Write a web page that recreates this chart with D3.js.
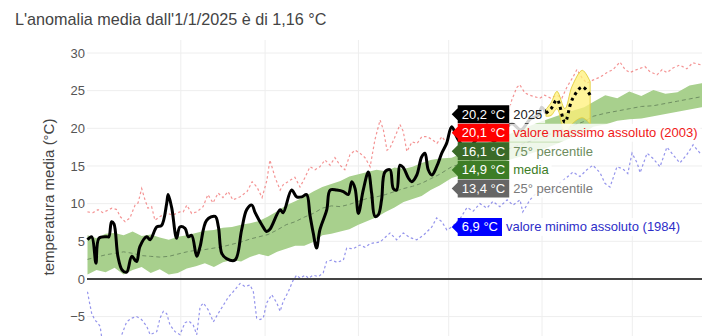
<!DOCTYPE html>
<html>
<head>
<meta charset="utf-8">
<script src="https://cdn.jsdelivr.net/npm/d3@7"></script>
<style>
  body { margin: 0; background: #fff; }
  svg { display: block; font-family: "Liberation Sans", Arial, sans-serif; }
</style>
</head>
<body>
<svg id="chart"></svg>
<script>
// day of year (0 = 1 Jan), value in °C
var serie2025 = [[0,5.2],[1.4,5.6],[2.8,2.1],[3.8,5.4],[6.4,5.6],[7.1,5.6],[8,7.6],[8.8,7.3],[10.1,3],[11.5,1.2],
  [13,0.9],[14.7,3],[16.3,2.3],[17.4,4.3],[19.7,5.6],[20.8,5.2],[23,6.9],[24.6,7.1],[26.3,10],[26.8,11.2],[28,9.4],
  [29.6,5.4],[30.7,6.9],[32.4,6.7],[33.5,5.6],[34.6,5.8],[36.3,3],[37.4,4.3],[39.6,7.8],[42.4,8.3],[43.5,6.9],
  [44.6,3.4],[46.2,2.7],[49,2.5],[51.2,6.5],[52.9,9.2],[54.6,9.8],[55.7,8.8],[57.9,7.2],[59.5,6.3],[60.6,6.6],
  [64,9.2],[65,8.8],[67.8,11.8],[69.5,10.9],[71.2,10.9],[72.8,11.2],[73.9,8.5],[75,6.1],[76.1,4.1],[77.2,6.5],
  [79.5,9.2],[80.6,11.8],[82.8,11.8],[85,11.6],[86.6,11.2],[87.8,12.9],[88.9,12],[90,8.7],[91.6,11.8],[93.3,14.2],
  [94.4,11.4],[95.5,8.3],[96.6,8.5],[97.7,10.5],[98.8,14.2],[100.5,14.5],[101.6,12],[102.7,11.8],[103.8,15.1],
  [104.9,14.8],[106.6,13.4],[107.7,12.9],[109.4,13.8],[111,16.2],[112.1,16.7],[113.2,14.5],[114.4,13.8],[116,14.9],
  [117.7,16.7],[119.3,18],[121,20.2],[123,18.6],[126,17.2],[129,18.4],[132,19.6],[135,18.3],[138,19.5],[141,20.6],
  [144,19.8],[147,21.2],[149.9,21.8],[150.9,22.8],[152.3,22]];

var previsioneDays = [152.3, 154, 156, 158.6, 161, 164.4, 167];
var previsione     = [22.0, 22.6, 23.8, 20.8, 23.8, 25.5, 24.4];
var previsioneMin  = [21.6, 21.7, 22.6, 19.4, 20.6, 21.4, 20.6];
var previsioneMax  = [22.5, 23.4, 24.9, 22.6, 25.6, 27.7, 26.2];

var massimoAssoluto = [[0,8.9],[1.8,8.8],[3.5,9.2],[5.1,8.8],[8.1,9.4],[9.8,9.2],[10.8,8.3],[12.5,7.6],[14.1,8.1],
  [15.8,9.8],[16.8,10.1],[18,12],[19.1,10.5],[20.1,9.4],[21.3,9.6],[22.4,7.8],[24.1,8.3],[26.3,8.7],[28.4,8.5],
  [30.7,8.9],[31.8,8.9],[33,9.8],[34.6,8.7],[36.3,8.9],[38.4,9.6],[40,11.2],[41.7,10.1],[43.4,11.4],[45,10.8],
  [46.7,11.6],[48.3,10.5],[50.7,10.9],[53,11.6],[54.7,12.9],[56.3,12.2],[58,10.8],[59.6,13.1],[60.6,15.8],[62.3,13.5],
  [64,11.8],[65,12.5],[67.3,13.1],[68.9,13.5],[70.6,12.2],[72.3,13.5],[73.9,14.9],[75.6,14.5],[77.2,14.9],[78.9,15.8],
  [80.6,15.1],[82.2,16.1],[83.9,15.1],[85.5,14.5],[87.2,16.5],[88.9,17.1],[90.5,16.7],[92.2,16.1],[93.9,14.9],
  [95.5,18.5],[97.2,21.1],[98.3,19.8],[99.5,17.1],[100.5,17.4],[102.2,18.9],[103.8,20.5],[104.9,19.6],[106.1,16.9],
  [107.8,18.2],[109.5,18],[111.1,18.9],[112.8,18.9],[114.5,18.5],[116.1,18],[117.8,18.9],[119.4,18],[121,20.1],
  [123.8,19.5],[127.1,20.5],[130.4,19.8],[133.7,21],[137,20.8],[139.4,21.5],[141,23.8],[142.6,25.4],[143.6,25.8],
  [145.3,24.7],[146.9,24.4],[148.5,24.2],[150.3,24],[151.9,24.4],[153.9,24],[156,24.4],[157.6,24],[159.3,25.5],
  [161.3,26.8],[162.6,27.8],[164.3,26.7],[165.9,26],[167.9,26.4],[170.3,26.8],[172.6,27.4],[174.6,27.8],[176.9,28.8],
  [178.6,27.8],[180.2,27.4],[182.5,27.8],[185.2,28.2],[186.9,27.5],[189.2,27.1],[190.9,27.8],[192.5,27.4],[194.5,28],
  [196.8,28.4],[199.1,27.9],[201.1,28.7],[204.1,28.4],[207,28.6]];

var minimoAssoluto = [[0,-1.7],[0.5,-2.8],[1.4,-4.6],[2.5,-5.5],[3.1,-5.7],[4.2,-6.3],[4.7,-7.7],[7,-8.6],[10,-8.2],
  [11.4,-7.4],[13,-5.7],[14.7,-5.2],[16.3,-5],[18,-5.4],[19.7,-6.3],[20.8,-7.4],[23,-7],[24.1,-5.2],[25.2,-4.3],
  [26.3,-4.6],[27.4,-6.1],[29.1,-7],[30.7,-7.4],[32.4,-5.8],[33.7,-5.6],[35.1,-6.1],[36.3,-7.4],[37.4,-3.7],
  [38.5,-3.2],[40.1,-4.1],[41.8,-5.7],[43.4,-4.6],[45.1,-3.5],[46.8,-2.4],[48.4,-1.7],[50.7,-0.6],[52.3,-1],
  [54,-0.8],[55.1,-1.7],[56.2,-5.2],[57.3,-5.4],[58.4,-5.2],[59.5,-3.2],[61.2,-2.1],[62.9,-3.2],[64,-4.3],[65,-3],
  [66.7,-1.7],[68.4,-0.1],[69.5,0.5],[70.6,0.1],[72.3,0.5],[73.4,0.1],[75,0.5],[76.7,0.3],[78.3,0.8],[79.4,2.3],
  [81.1,2.5],[82.9,2.2],[85,2.5],[86.1,4.1],[88.2,4],[90.5,4.5],[92.2,4.2],[93.9,4.7],[97.2,4.9],[100.5,6.1],
  [102.7,5.2],[104.9,6.1],[107.1,5.5],[109.4,5.2],[111.6,5.8],[114.4,6.9],[116,8.1],[117.7,7.6],[119.4,6.5],[121,6.9],
  [123.8,8],[126.1,9.5],[128.1,9],[130.4,10],[132.7,9.4],[134.7,10.3],[137,9.6],[139.4,10.5],[141.4,9.8],[143.7,10.5],
  [144.6,8.9],[147,10.5],[149.3,11.5],[152,12],[154.3,11.3],[157,12.8],[159.3,13.5],[161.3,14.2],[163.6,13.6],
  [165.9,14.5],[167.9,15.1],[170.3,14.1],[171.9,12.7],[173.6,12.2],[175.9,14.9],[177.9,14.6],[179.5,14],[180.9,16.7],
  [182.6,15.4],[183.6,14.1],[185.9,16.7],[187.9,16],[190.2,14.9],[192.5,17.5],[194.5,16.5],[196.8,15.4],[199.1,16.5],
  [201.2,17.8],[203.5,16.7],[207,17]];

var percDays = [0,3,6,9,12,15,18,21,24,27,30,33,36,39,42,45,48,51,54,57,60,63,66,69,72,75,78,81,84,87,90,93,96,99,
  102,105,108,111,114,117,121,125,130,135,140,145,150,155,160,165,168,172,176,180,184,188,192,196,200,204,207];
var perc75 = [5.8,5.4,6.0,6.1,5.8,6.3,5.7,5.9,5.5,5.2,5.6,5.8,6.1,6.4,6.5,6.8,6.9,7.2,7.4,7.7,8.3,9.0,9.8,10.3,10.9,
  11.6,12.2,12.6,13.0,13.6,13.9,14.2,14.5,14.3,14.8,14.6,14.9,15.4,15.8,16.0,16.1,16.8,17.6,18.4,19.2,20.0,20.8,21.5,
  22.2,22.8,23.5,24.4,24.0,24.9,24.3,25.1,24.6,24.8,25.7,26.0,25.6];
var media = [2.6,2.9,3.2,3.4,3.6,3.4,3.1,3.0,2.9,3.0,3.3,3.6,3.8,3.9,4.1,4.3,4.6,4.9,5.3,5.6,5.9,6.5,7.2,7.6,8.2,8.7,
  9.4,9.7,9.6,9.9,10.3,10.7,10.9,11.2,11.6,12.0,12.3,12.7,13.3,13.9,14.9,15.4,16.0,16.6,17.3,18.0,18.7,19.4,20.2,20.9,
  21.6,22.0,22.3,22.6,22.9,23.0,23.3,23.6,23.9,24.2,24.4];
var perc25 = [0.6,1.2,0.9,1.5,0.6,1.2,1.6,0.8,1.3,0.6,0.8,1.4,1.7,2.1,1.6,2.2,2.5,2.3,2.9,3.3,3.0,3.6,4.0,4.4,4.4,4.9,
  5.8,6.0,6.3,6.6,7.2,7.7,8.2,8.9,9.5,10.2,10.6,11.0,11.8,12.4,13.4,13.9,14.5,15.2,15.8,16.4,17.0,17.8,18.6,19.4,
  20.2,20.5,21.0,21.2,21.3,21.6,21.9,22.2,22.5,22.8,23.0];

var yTicks = [-5, 0, 5, 10, 15, 20, 25, 30];
var monthStarts = [31, 59, 90, 120, 151, 181];
var hoverDay = 121;
var titolo = "L'anomalia media dall'1/1/2025 è di 1,16 °C";

var width = 702, height = 336;
var svg = d3.select("#chart").attr("width", width).attr("height", height);

var x = d3.scaleLinear().domain([0, 365]).range([87.5, 87.5 + 365 * 3.01]);
var y = d3.scaleLinear().domain([-5, 30]).range([316.6, 53]);

var itFormat = d3.formatLocale({ decimal: ",", thousands: ".", grouping: [3], currency: ["", " €"] }).format(".1f");

svg.append("text")
  .attr("x", 15).attr("y", 25)
  .attr("font-size", 16.2).attr("fill", "#444")
  .text(titolo);

var grid = svg.append("g");
grid.selectAll("line.h").data(yTicks).enter().append("line")
  .attr("x1", 87).attr("x2", width)
  .attr("y1", function(d) { return y(d); }).attr("y2", function(d) { return y(d); })
  .attr("stroke", "#eee").attr("stroke-width", 1);
grid.selectAll("line.v").data(monthStarts).enter().append("line")
  .attr("x1", function(d) { return x(d); }).attr("x2", function(d) { return x(d); })
  .attr("y1", 40).attr("y2", height)
  .attr("stroke", "#eee").attr("stroke-width", 1);

var yAxis = svg.append("g")
  .attr("transform", "translate(85,0)")
  .call(d3.axisLeft(y).tickValues(yTicks).tickSize(0).tickPadding(0));
yAxis.select(".domain").remove();
yAxis.selectAll("text").attr("font-size", 13).attr("fill", "#555")
  .attr("font-family", "Liberation Sans, Arial, sans-serif");

svg.append("text")
  .attr("transform", "translate(54,197) rotate(-90)")
  .attr("text-anchor", "middle")
  .attr("font-size", 15).attr("fill", "#444")
  .text("temperatura media (°C)");

var plot = svg.append("g");

// 25-75 percentile band
var bandData = percDays.map(function(d, i) { return { d: d, lo: perc25[i], hi: perc75[i], m: media[i] }; });
plot.append("path")
  .datum(bandData)
  .attr("fill", "#a8d08d")
  .attr("d", d3.area()
    .x(function(d) { return x(d.d); })
    .y0(function(d) { return y(d.lo); })
    .y1(function(d) { return y(d.hi); }));

plot.append("path")
  .datum(bandData)
  .attr("fill", "none").attr("stroke", "#6f8f62").attr("stroke-width", 1)
  .attr("stroke-dasharray", "4,3")
  .attr("d", d3.line().x(function(d) { return x(d.d); }).y(function(d) { return y(d.m); }));

var pairLine = d3.line()
  .x(function(d) { return x(d[0]); })
  .y(function(d) { return y(d[1]); });

plot.append("path")
  .datum(massimoAssoluto)
  .attr("fill", "none").attr("stroke", "rgba(235,60,60,0.55)").attr("stroke-width", 1.2)
  .attr("stroke-dasharray", "2.5,2.5")
  .attr("d", pairLine);

plot.append("path")
  .datum(minimoAssoluto)
  .attr("fill", "none").attr("stroke", "rgba(60,60,220,0.55)").attr("stroke-width", 1.2)
  .attr("stroke-dasharray", "2.5,2.5")
  .attr("d", pairLine);

svg.append("line")
  .attr("x1", 87).attr("x2", width)
  .attr("y1", y(0)).attr("y2", y(0))
  .attr("stroke", "#444").attr("stroke-width", 2);

// forecast band and line
var fc = previsioneDays.map(function(d, i) { return { d: d, v: previsione[i], lo: previsioneMin[i], hi: previsioneMax[i] }; });
plot.append("path")
  .datum(fc)
  .attr("fill", "rgba(255,240,120,0.75)").attr("stroke", "rgba(225,205,60,0.9)").attr("stroke-width", 1)
  .attr("d", d3.area().curve(d3.curveCatmullRom)
    .x(function(d) { return x(d.d); })
    .y0(function(d) { return y(d.lo); })
    .y1(function(d) { return y(d.hi); }));

plot.append("path")
  .datum(serie2025)
  .attr("fill", "none").attr("stroke", "#000").attr("stroke-width", 3)
  .attr("stroke-linejoin", "round")
  .attr("d", d3.line().curve(d3.curveCatmullRom.alpha(0.5))
    .x(function(d) { return x(d[0]); })
    .y(function(d) { return y(d[1]); }));

plot.append("path")
  .datum(fc)
  .attr("fill", "none").attr("stroke", "#000").attr("stroke-width", 3)
  .attr("stroke-dasharray", "3,3.5")
  .attr("d", d3.line().curve(d3.curveCatmullRom)
    .x(function(d) { return x(d.d); })
    .y(function(d) { return y(d.v); }));

// hover labels at hoverDay
function valueAt(pairs) {
  return pairs.find(function(p) { return p[0] === hoverDay; })[1];
}
var pi = percDays.indexOf(hoverDay);
var labels = [
  { name: "2025", v: valueAt(serie2025), box: "#000", text: "#222" },
  { name: "valore massimo assoluto (2003)", v: valueAt(massimoAssoluto), box: "#ff0000", text: "#f01818" },
  { name: "75° percentile", v: perc75[pi], box: "#3a6a28", text: "#6d8c5e" },
  { name: "media", v: media[pi], box: "#3d7d26", text: "#3d7d26" },
  { name: "25° percentile", v: perc25[pi], box: "#666", text: "#7a7a7a" },
  { name: "valore minimo assoluto (1984)", v: valueAt(minimoAssoluto), box: "#0000ff", text: "#2d2dc8" }
];

// push overlapping labels apart
var step = 18.6;
labels.forEach(function(l) { l.y0 = y(l.v); });
var groups = labels.map(function(l) { return [l]; });
function place(g) {
  var mean = d3.mean(g, function(l) { return l.y0; });
  g.forEach(function(l, i) { l.y = mean + (i - (g.length - 1) / 2) * step; });
}
groups.forEach(place);
var merged = true;
while (merged) {
  merged = false;
  for (var i = 0; i < groups.length - 1; i++) {
    var a = groups[i], b = groups[i + 1];
    if (a[a.length - 1].y + step > b[0].y) {
      groups.splice(i, 2, a.concat(b));
      place(groups[i]);
      merged = true;
      break;
    }
  }
}

var hx = x(hoverDay);
var hover = svg.append("g").attr("font-size", 13);
labels.forEach(function(l) {
  var g = hover.append("g").attr("transform", "translate(" + hx + "," + l.y + ")");
  var nameBg = g.append("rect");
  var path = g.append("path");
  var vt = g.append("text").attr("x", 10).attr("y", 4.5).attr("fill", "#fff").text(itFormat(l.v) + " °C");
  var w = vt.node().getComputedTextLength() + 8;
  path.attr("fill", l.box)
    .attr("d", "M0,0L6,-6V-9H" + (6 + w) + "V9H6V6Z");
  var nt = g.append("text").attr("x", w + 10).attr("y", 4.5).attr("fill", l.text).text(l.name);
  var nw = nt.node().getComputedTextLength();
  nameBg.attr("x", w + 6).attr("y", -9).attr("width", nw + 7).attr("height", 18)
    .attr("fill", "#fff").attr("fill-opacity", 0.82);
});
</script>
</body>
</html>
